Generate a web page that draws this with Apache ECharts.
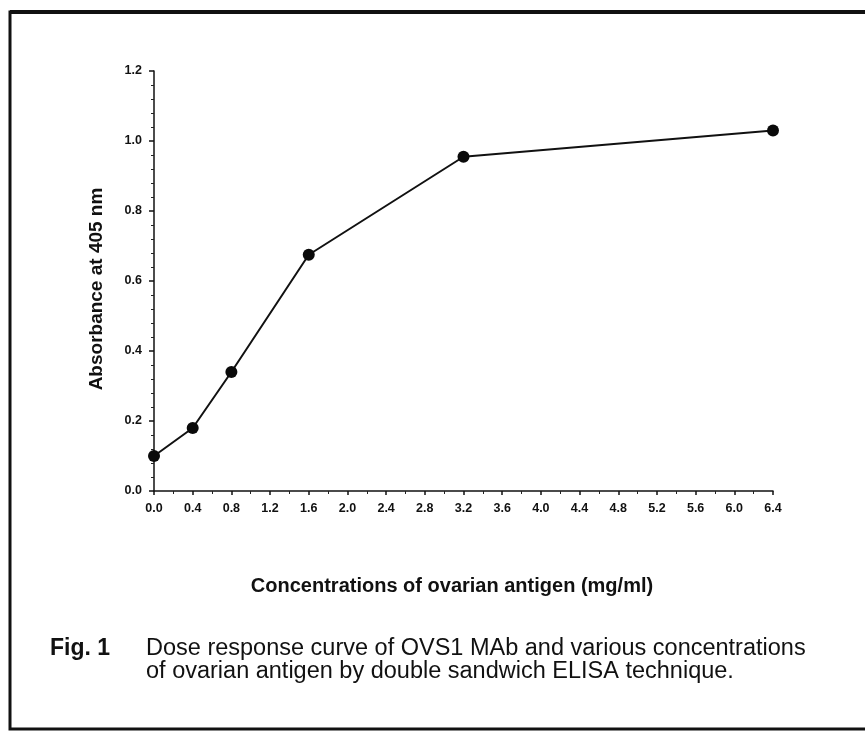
<!DOCTYPE html>
<html>
<head>
<meta charset="utf-8">
<script src="https://cdn.jsdelivr.net/npm/echarts@6/dist/echarts.min.js"></script>
<style>
html,body{margin:0;padding:0;background:#fff;}
#chart{width:865px;height:733px;}
</style>
</head>
<body>
<div id="chart"></div>
<script>
// Data
const concentrations = [0.0, 0.4, 0.8, 1.6, 3.2, 6.4];
const absorbance = [0.10, 0.18, 0.34, 0.675, 0.955, 1.03];
const xTickLabels = ['0.0','0.4','0.8','1.2','1.6','2.0','2.4','2.8','3.2','3.6','4.0','4.4','4.8','5.2','5.6','6.0','6.4'];
const yTickLabels = ['0.0','0.2','0.4','0.6','0.8','1.0','1.2'];
const xTitle = 'Concentrations of ovarian antigen (mg/ml)';
const yTitle = 'Absorbance at 405 nm';
const captionLabel = 'Fig. 1';
const captionLines = ['Dose response curve of OVS1 MAb and various concentrations', 'of ovarian antigen by double sandwich ELISA technique.'];

const chart = echarts.init(document.getElementById('chart'), null, {renderer: 'canvas'});
const font = '"Liberation Sans", Arial, sans-serif';
const points = concentrations.map((x, i) => [x, absorbance[i]]);

chart.setOption({
  animation: false,
  backgroundColor: '#ffffff',
  grid: {left: 154, right: 92, top: 71, bottom: 242, containLabel: false},
  xAxis: {
    type: 'value', min: 0, max: 6.4, interval: 0.4,
    axisLine: {lineStyle: {color: '#111', width: 1.5}},
    axisTick: {show: true, length: 4, lineStyle: {color: '#111', width: 1.5}},
    minorTick: {show: true, splitNumber: 2, length: 3, lineStyle: {color: '#222', width: 1}},
    splitLine: {show: false},
    axisLabel: {
      margin: 11, fontFamily: font, fontWeight: 'bold', fontSize: 12.5, color: '#111',
      formatter: (v) => { const i = Math.round(v / 0.4); return xTickLabels[i] ?? ''; }
    }
  },
  yAxis: {
    type: 'value', min: 0, max: 1.2, interval: 0.2,
    name: yTitle, nameLocation: 'middle', nameGap: 48,
    nameTextStyle: {fontFamily: font, fontWeight: 'bold', fontSize: 19, color: '#111', padding: [0, 16, 0, 0]},
    axisLine: {lineStyle: {color: '#111', width: 1.5}},
    axisTick: {show: true, length: 5, lineStyle: {color: '#111', width: 1.5}},
    minorTick: {show: true, splitNumber: 5, length: 3, lineStyle: {color: '#222', width: 1}},
    splitLine: {show: false},
    axisLabel: {
      margin: 12, fontFamily: font, fontWeight: 'bold', fontSize: 12.5, color: '#111',
      formatter: (v) => { const i = Math.round(v / 0.2); return yTickLabels[i] ?? ''; }
    }
  },
  series: [{
    type: 'line',
    data: points,
    symbol: 'circle', symbolSize: 12,
    itemStyle: {color: '#0a0a0a'},
    lineStyle: {color: '#111', width: 2},
    silent: true
  }],
  graphic: [
    {type: 'rect', shape: {x: 10, y: 12, width: 880, height: 717}, style: {fill: 'none', stroke: '#111', lineWidth: 3}},
    {type: 'line', shape: {x1: 10, y1: 12, x2: 865, y2: 12}, style: {stroke: '#111', lineWidth: 4}},
    {type: 'text', x: 452, y: 586, style: {text: xTitle, fontFamily: font, fontWeight: 'bold', fontSize: 20, fill: '#111', align: 'center', verticalAlign: 'middle'}},
    {type: 'text', x: 50, y: 649, style: {text: captionLabel, fontFamily: font, fontWeight: 'bold', fontSize: 23, fill: '#111', align: 'left', verticalAlign: 'middle'}},
    {type: 'text', x: 146, y: 649, style: {text: captionLines[0], fontFamily: font, fontSize: 23.5, fill: '#111', align: 'left', verticalAlign: 'middle'}},
    {type: 'text', x: 146, y: 672, style: {text: captionLines[1], fontFamily: font, fontSize: 23.5, fill: '#111', align: 'left', verticalAlign: 'middle'}}
  ]
});
</script>
</body>
</html>
